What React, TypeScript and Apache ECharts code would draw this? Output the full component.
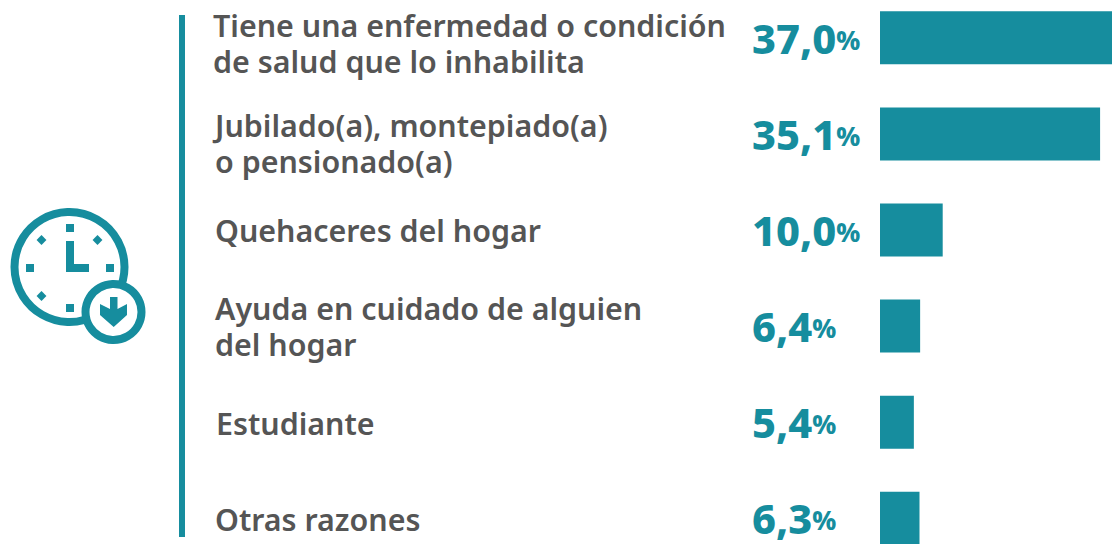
import React, { useEffect, useRef } from "react";
import * as echarts from "echarts";

const categories = [
  "Tiene una enfermedad o condición\nde salud que lo inhabilita",
  "Jubilado(a), montepiado(a)\no pensionado(a)",
  "Quehaceres del hogar",
  "Ayuda en cuidado de alguien\ndel hogar",
  "Estudiante",
  "Otras razones",
];
const values = [37.0, 35.1, 10.0, 6.4, 5.4, 6.3];
const labelNudgeX = [-2, 0, 0, 0, 1, 0];
const labelNudgeY = [6, 10, 0, 0, 1, 1];
const TEAL = "#168d9e";
const FONT = "Noto Sans";

function rect(cx: number, cy: number, w: number, h: number, rotation = 0) {
  return {
    type: "rect", x: cx, y: cy, rotation,
    shape: { x: -w / 2, y: -h / 2, width: w, height: h },
    style: { fill: TEAL },
  };
}

export default function App() {
  const ref = useRef<HTMLDivElement>(null);
  useEffect(() => {
    const chart = echarts.init(ref.current!, null, { renderer: "svg" });
    chart.setOption({
      animation: false,
      grid: { left: 880, top: 0.75, width: 232, height: 576.6 },
      xAxis: { type: "value", min: 0, max: 37, show: false },
      yAxis: {
        type: "category", inverse: true, data: categories,
        axisLine: { show: false }, axisTick: { show: false }, splitLine: { show: false },
        axisLabel: { show: false },
      },
      series: [
        {
          type: "bar", data: values, barWidth: 53, barGap: "-100%", itemStyle: { color: TEAL }, silent: true,
          label: {
            show: true, position: [-128, "50%"], align: "left", verticalAlign: "middle",
            formatter: (p: any) => `{v|${p.value.toFixed(1).replace(".", ",")}}{p|%}`,
            rich: {
              v: { fontFamily: FONT, fontWeight: 800, fontSize: 41.5, lineHeight: 42, color: TEAL },
              p: { fontFamily: FONT, fontWeight: 800, fontSize: 26, lineHeight: 26, color: TEAL, padding: [4, 0, 0, 0] },
            },
          },
        },
        {
          type: "bar", barWidth: 53, silent: true, itemStyle: { color: "transparent" },
          data: categories.map((c, i) => ({
            value: 0,
            label: { offset: [labelNudgeX[i], labelNudgeY[i]] },
          })),
          label: {
            show: true, position: [-665, "50%"], align: "left", verticalAlign: "middle",
            formatter: (p: any) => categories[p.dataIndex],
            fontFamily: FONT, fontWeight: 600, fontSize: 30.4, lineHeight: 36, color: "#555555",
          },
        },
      ],
      graphic: [{
        type: "group", x: 0, y: 11,
        children: [
          rect(182, 276, 6, 522),
          { type: "circle", shape: { cx: 69.5, cy: 267, r: 55 }, style: { fill: "#fff", stroke: TEAL, lineWidth: 8 } },
          rect(70, 228, 8, 8), rect(70, 308, 8, 8), rect(30, 268, 8, 8), rect(110, 268, 8, 8),
          rect(41.5, 240, 7, 7, Math.PI / 4), rect(97.5, 240, 7, 7, Math.PI / 4), rect(41.5, 296, 7, 7, Math.PI / 4),
          rect(70, 256.5, 8, 31), rect(77.5, 268, 23, 8),
          { type: "circle", shape: { cx: 113.5, cy: 312, r: 28 }, style: { fill: "#fff", stroke: TEAL, lineWidth: 8 } },
          { type: "polygon", shape: { points: [[110, 297], [117.5, 297], [117.5, 309], [127, 304], [127, 315], [113.7, 327], [100, 315], [100, 304], [110, 309]] }, style: { fill: TEAL } },
        ],
      }],
    });
    return () => chart.dispose();
  }, []);
  return (
    <div style={{ position: "absolute", left: 0, top: 0, width: 1113, height: 544, overflow: "hidden" }}>
      <div ref={ref} style={{ position: "absolute", left: 0, top: -11, width: 1113, height: 588 }} />
    </div>
  );
}
